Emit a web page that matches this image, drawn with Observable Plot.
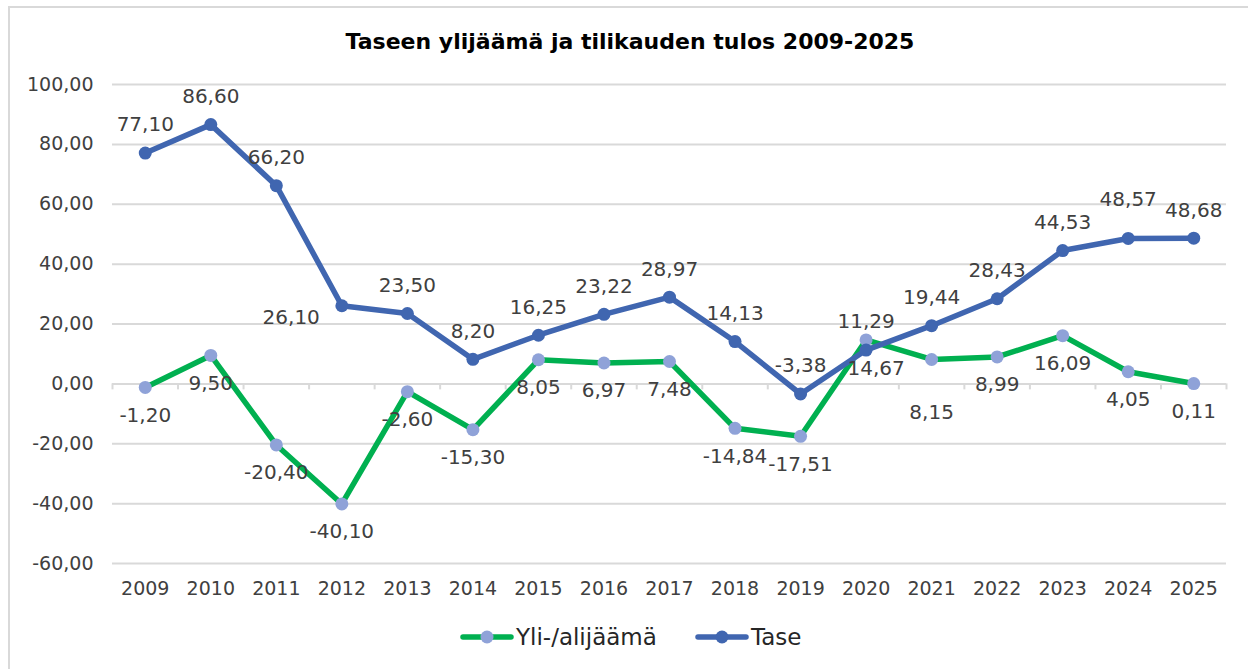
<!DOCTYPE html>
<html>
<head>
<meta charset="utf-8">
<script src="https://cdn.jsdelivr.net/npm/d3@7"></script>
<script src="https://cdn.jsdelivr.net/npm/@observablehq/plot@0.6"></script>
<style>
  html, body { margin: 0; padding: 0; background: #fff; overflow: hidden; }
  #wrap { position: relative; width: 1248px; height: 669px; overflow: hidden; font-family: "DejaVu Sans", Verdana, sans-serif; }
  #frame { position: absolute; left: 8px; top: 6px; width: 1300px; height: 700px; border-left: 2px solid #D9D9D9; border-top: 2px solid #D9D9D9; box-sizing: border-box; }
  #title { position: absolute; left: 0; top: 28px; width: 1260px; text-align: center; font-weight: bold; font-size: 22px; color: #000; line-height: 28px; }
  #plot { position: absolute; left: 0; top: 70px; }
  .leg { position: absolute; top: 622px; height: 30px; display: flex; align-items: center; font-size: 23px; color: #262626; }
  .leg svg { margin-right: 2px; }
</style>
</head>
<body>
<div id="wrap">
  <div id="frame"></div>
  <div id="title">Taseen ylijäämä ja tilikauden tulos 2009-2025</div>
  <div id="plot"></div>
  <div id="legend"></div>
</div>
<script>
// ---- Data ----
const chartTitle = "Taseen ylijäämä ja tilikauden tulos 2009-2025";
const years = [2009, 2010, 2011, 2012, 2013, 2014, 2015, 2016, 2017, 2018, 2019, 2020, 2021, 2022, 2023, 2024, 2025];
const yliAlijaama = [-1.20, 9.50, -20.40, -40.10, -2.60, -15.30, 8.05, 6.97, 7.48, -14.84, -17.51, 14.67, 8.15, 8.99, 16.09, 4.05, 0.11];
const tase = [77.10, 86.60, 66.20, 26.10, 23.50, 8.20, 16.25, 23.22, 28.97, 14.13, -3.38, 11.29, 19.44, 28.43, 44.53, 48.57, 48.68];
const yTicks = [-60, -40, -20, 0, 20, 40, 60, 80, 100];
const seriesNames = ["Yli-/alijäämä", "Tase"];

// label placement exceptions (as in the original chart)
const taseLabelPlace = {2012: "left", 2024: "high"};
const yliLabelPlace = {2021: "low", 2020: "belowRight"};

// ---- Styles ----
const blue = "#4066B0";
const green = "#00B050";
const greenMarker = "#8FA2D8";
const grid = "#D9D9D9";
const textCol = "#404040";

const fmt = v => v.toFixed(2).replace(".", ",");

const taseRows = years.map((yr, i) => ({year: yr, value: tase[i], place: taseLabelPlace[yr] || "above"}));
const yliRows = years.map((yr, i) => ({year: yr, value: yliAlijaama[i], place: yliLabelPlace[yr] || "below"}));
const boundaries = [years[0] - 0.5, ...years.map(y => y + 0.5)];

const labelStyle = {x: "year", y: "value", text: d => fmt(d.value), fill: textCol, fontSize: 20};

const plot = Plot.plot({
  width: 1248,
  height: 540,
  marginLeft: 112,
  marginRight: 22,
  marginTop: 14,
  marginBottom: 47,
  style: {fontFamily: "DejaVu Sans, Verdana, sans-serif", background: "transparent", overflow: "visible"},
  x: {domain: [years[0] - 0.5, years[years.length - 1] + 0.5]},
  y: {domain: [yTicks[0], yTicks[yTicks.length - 1]]},
  marks: [
    Plot.gridY(yTicks, {stroke: grid, strokeOpacity: 1, strokeWidth: 2}),
    Plot.ruleX(boundaries, {y1: 0, y2: -2, stroke: grid, strokeWidth: 2}),
    Plot.axisY(yTicks, {tickSize: 0, tickPadding: 19, tickFormat: fmt, fontSize: 19, fill: textCol, label: null}),
    Plot.axisX(years, {tickSize: 0, tickPadding: 18, tickFormat: d => String(d), fontSize: 19, fill: textCol, label: null}),
    Plot.line(yliRows, {x: "year", y: "value", stroke: green, strokeWidth: 5.5, strokeLinejoin: "round", strokeLinecap: "round"}),
    Plot.dot(yliRows, {x: "year", y: "value", r: 6.5, fill: greenMarker, stroke: null}),
    Plot.line(taseRows, {x: "year", y: "value", stroke: blue, strokeWidth: 5.5, strokeLinejoin: "round", strokeLinecap: "round"}),
    Plot.dot(taseRows, {x: "year", y: "value", r: 6.5, fill: blue, stroke: null}),
    Plot.text(taseRows.filter(d => d.place === "above"), {...labelStyle, dy: -28}),
    Plot.text(taseRows.filter(d => d.place === "high"), {...labelStyle, dy: -39}),
    Plot.text(taseRows.filter(d => d.place === "left"), {...labelStyle, dy: 12, dx: -22, textAnchor: "end"}),
    Plot.text(yliRows.filter(d => d.place === "below"), {...labelStyle, dy: 28}),
    Plot.text(yliRows.filter(d => d.place === "belowRight"), {...labelStyle, dy: 29, dx: 10}),
    Plot.text(yliRows.filter(d => d.place === "low"), {...labelStyle, dy: 53})
  ]
});
document.getElementById("plot").appendChild(plot);

// ---- Legend ----
const legend = document.getElementById("legend");
const legendItems = [
  {name: seriesNames[0], line: green, marker: greenMarker, left: 460},
  {name: seriesNames[1], line: blue, marker: blue, left: 695}
];
for (const it of legendItems) {
  const div = document.createElement("div");
  div.className = "leg";
  div.style.left = it.left + "px";
  div.innerHTML = `<svg width="54" height="20"><line x1="3" x2="51" y1="10" y2="10" stroke="${it.line}" stroke-width="5.5" stroke-linecap="round"/><circle cx="27" cy="10" r="6.5" fill="${it.marker}"/></svg><span>${it.name}</span>`;
  legend.appendChild(div);
}
</script>
</body>
</html>
